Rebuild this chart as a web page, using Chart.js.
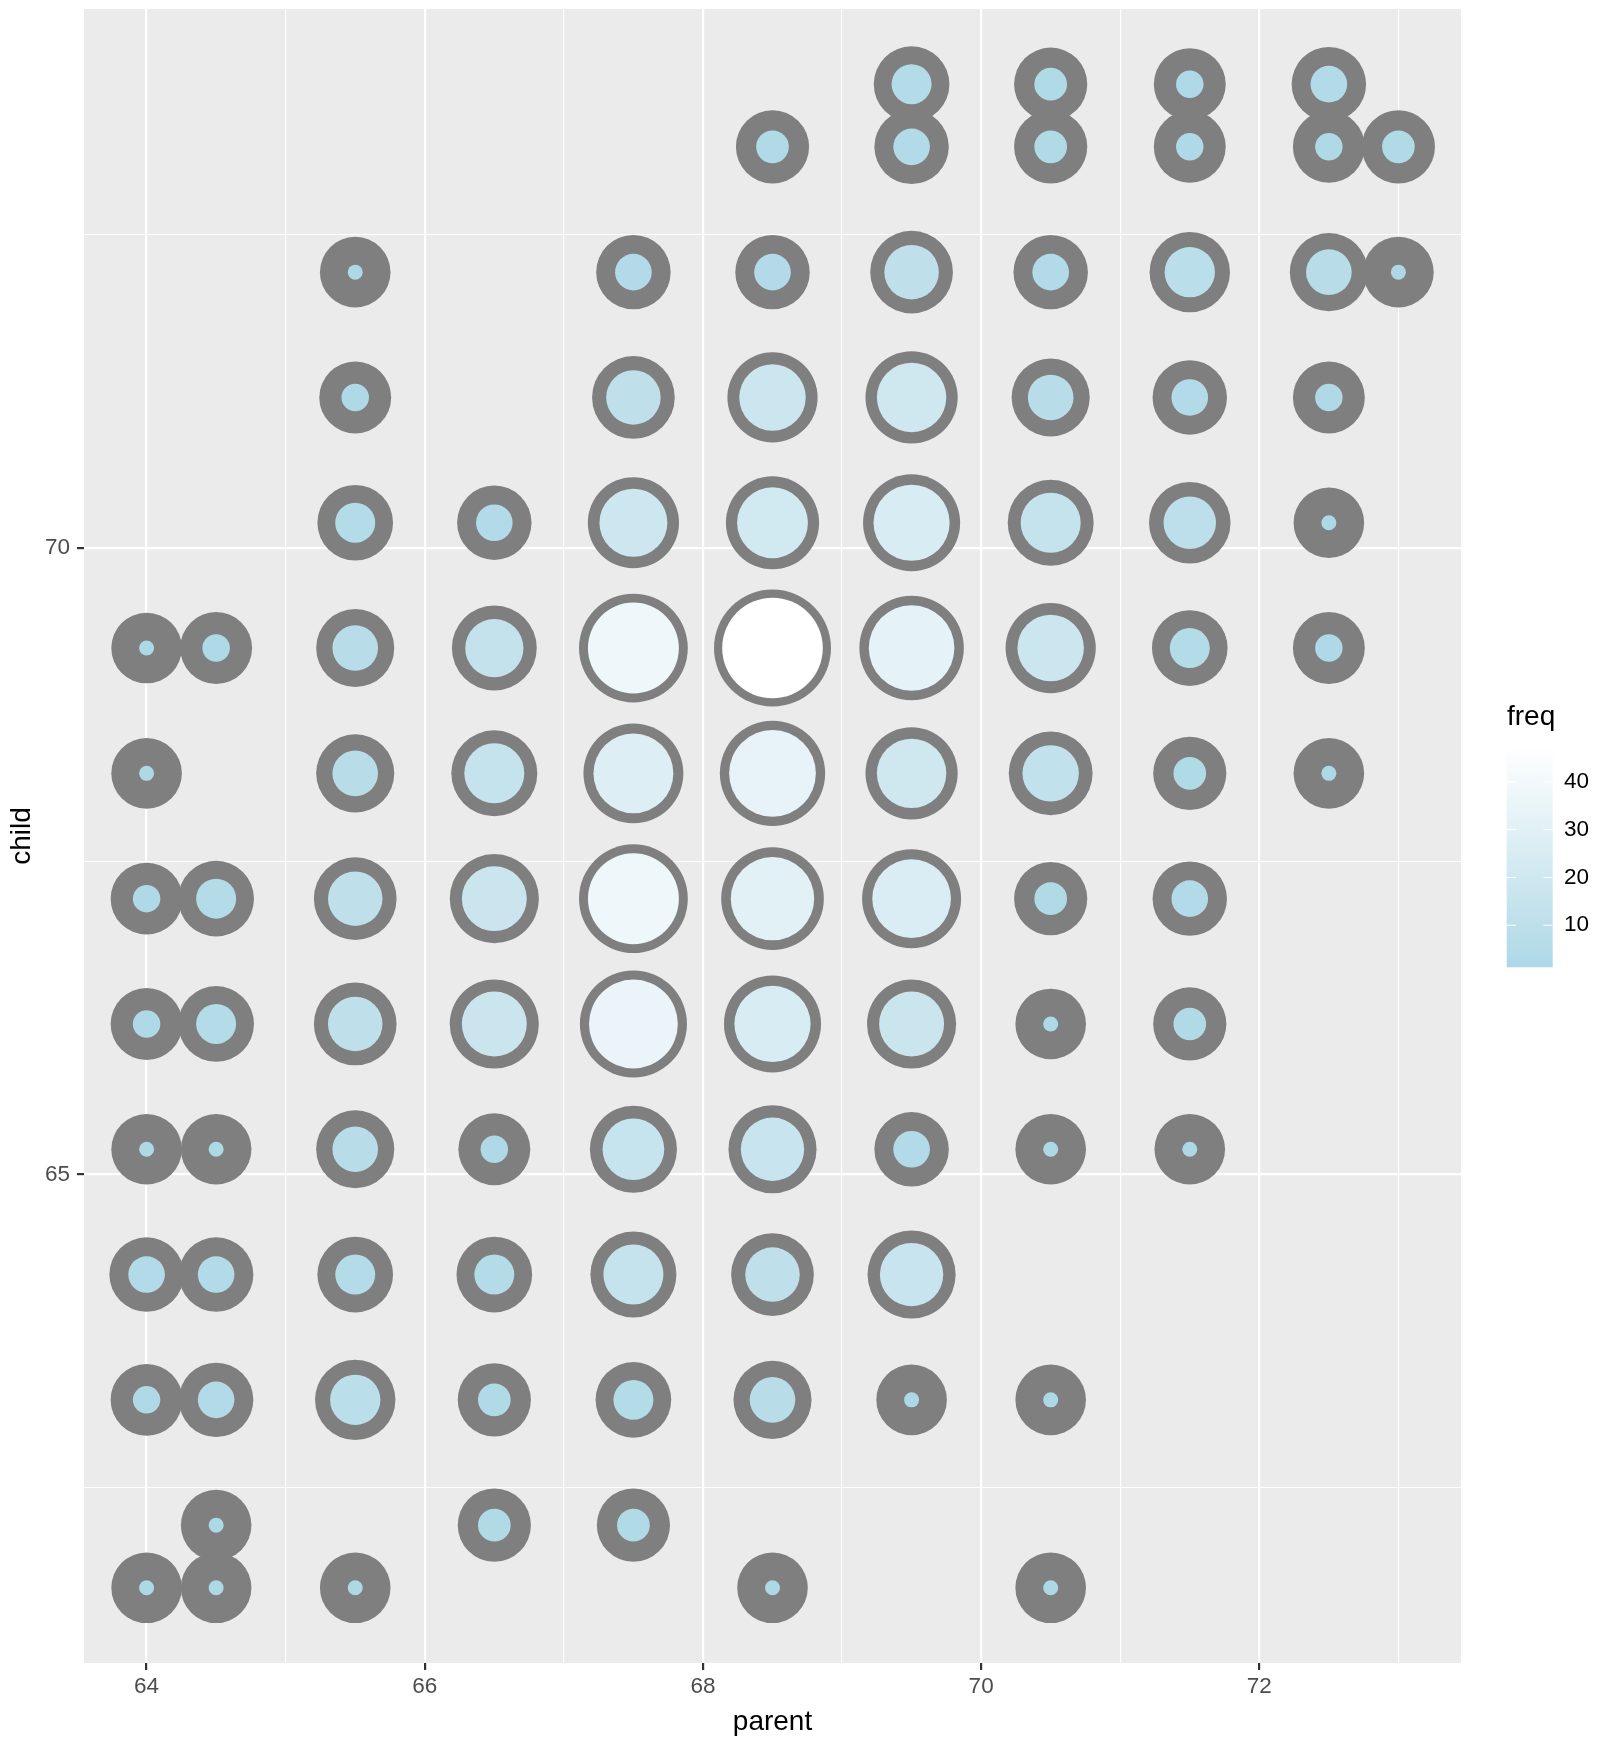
<!DOCTYPE html>
<html>
<head>
<meta charset="utf-8">
<script src="https://cdn.jsdelivr.net/npm/chart.js@4/dist/chart.umd.min.js"></script>
<style>
  html, body { margin: 0; padding: 0; background: #ffffff; }
  #wrap { position: relative; width: 1612px; height: 1746px; }
  canvas { display: block; }
</style>
</head>
<body>
<div id="wrap"><canvas id="c" width="1612" height="1746"></canvas></div>
<script>
// ---------------- DATA ----------------
const parentHeights = [64, 64.5, 65.5, 66.5, 67.5, 68.5, 69.5, 70.5, 71.5, 72.5, 73];
const childHeights  = [61.7, 62.2, 63.2, 64.2, 65.2, 66.2, 67.2, 68.2, 69.2, 70.2, 71.2, 72.2, 73.2, 73.7];
// frequency rows, one per child height, columns follow parentHeights
const freq617 = [1, 1, 1, 0, 0, 1, 0, 1, 0, 0, 0];
const freq622 = [0, 1, 0, 3, 3, 0, 0, 0, 0, 0, 0];
const freq632 = [2, 4, 9, 3, 5, 7, 1, 1, 0, 0, 0];
const freq642 = [4, 4, 5, 5, 14, 11, 16, 0, 0, 0, 0];
const freq652 = [1, 1, 7, 2, 15, 16, 4, 1, 1, 0, 0];
const freq662 = [2, 5, 11, 17, 36, 25, 17, 1, 3, 0, 0];
const freq672 = [2, 5, 11, 17, 38, 31, 27, 3, 4, 0, 0];
const freq682 = [1, 0, 7, 14, 28, 34, 20, 12, 3, 1, 0];
const freq692 = [1, 2, 7, 13, 38, 48, 33, 18, 5, 2, 0];
const freq702 = [0, 0, 5, 4, 19, 21, 25, 14, 10, 1, 0];
const freq712 = [0, 0, 2, 0, 11, 18, 20, 7, 4, 2, 0];
const freq722 = [0, 0, 1, 0, 4, 4, 11, 4, 9, 7, 1];
const freq732 = [0, 0, 0, 0, 0, 3, 4, 3, 2, 2, 3];
const freq737 = [0, 0, 0, 0, 0, 0, 5, 3, 2, 4, 0];
const freqRows = [freq617, freq622, freq632, freq642, freq652, freq662, freq672,
                  freq682, freq692, freq702, freq712, freq722, freq732, freq737];

const xMajorTicks = [64, 66, 68, 70, 72];
const xMinorTicks = [65, 67, 69, 71, 73];
const yMajorTicks = [65, 70];
const yMinorTicks = [62.5, 67.5, 72.5];
const legendTicks = [10, 20, 30, 40];
const xTitle = 'parent';
const yTitle = 'child';
const legendTitle = 'freq';

// ---------------- COLOUR (Lab interpolation lightblue -> white) ----------------
function toLin(c) { c /= 255; return c <= 0.04045 ? c / 12.92 : Math.pow((c + 0.055) / 1.055, 2.4); }
function fromLin(c) { const v = c <= 0.0031308 ? 12.92 * c : 1.055 * Math.pow(c, 1 / 2.4) - 0.055; return Math.round(Math.max(0, Math.min(1, v)) * 255); }
const Xn = 0.95047, Yn = 1.0, Zn = 1.08883;
function fLab(t) { return t > 0.008856 ? Math.cbrt(t) : 7.787 * t + 16 / 116; }
function fInv(t) { const t3 = t * t * t; return t3 > 0.008856 ? t3 : (t - 16 / 116) / 7.787; }
function rgbToLab(rgb) {
  const r = toLin(rgb[0]), g = toLin(rgb[1]), b = toLin(rgb[2]);
  const X = 0.4124564 * r + 0.3575761 * g + 0.1804375 * b;
  const Y = 0.2126729 * r + 0.7151522 * g + 0.0721750 * b;
  const Z = 0.0193339 * r + 0.1191920 * g + 0.9503041 * b;
  const fx = fLab(X / Xn), fy = fLab(Y / Yn), fz = fLab(Z / Zn);
  return [116 * fy - 16, 500 * (fx - fy), 200 * (fy - fz)];
}
function labToRgb(lab) {
  const fy = (lab[0] + 16) / 116, fx = fy + lab[1] / 500, fz = fy - lab[2] / 200;
  const X = fInv(fx) * Xn, Y = fInv(fy) * Yn, Z = fInv(fz) * Zn;
  const r = 3.2404542 * X - 1.5371385 * Y - 0.4985314 * Z;
  const g = -0.9692660 * X + 1.8760108 * Y + 0.0415560 * Z;
  const b = 0.0556434 * X - 0.2040259 * Y + 1.0572252 * Z;
  return 'rgb(' + fromLin(r) + ',' + fromLin(g) + ',' + fromLin(b) + ')';
}
const lowLab = rgbToLab([173, 216, 230]);   // lightblue
const highLab = rgbToLab([255, 255, 255]);  // white

// ---------------- BUILD POINTS ----------------
const points = [];
childHeights.forEach((c, i) => {
  parentHeights.forEach((p, j) => {
    const f = freqRows[i][j];
    if (f > 0) points.push({ x: p, y: c, f: f });
  });
});
const fMin = Math.min(...points.map(d => d.f));
const fMax = Math.max(...points.map(d => d.f));
function colourFor(f) {
  const t = (f - fMin) / (fMax - fMin);
  return labToRgb([0, 1, 2].map(k => lowLab[k] + (highLab[k] - lowLab[k]) * t));
}
function innerR(f) { return 7.5 + 42.8 * Math.sqrt((f - fMin) / (fMax - fMin)); }
function outerR(f) { return Math.sqrt(1246 + 2176 * (f - fMin) / (fMax - fMin)); }

const outerPts = points.map(d => ({ x: d.x, y: d.y, r: outerR(d.f), f: d.f }));
const innerPts = points.map(d => ({ x: d.x, y: d.y, r: innerR(d.f), f: d.f }));

// ---------------- PLUGINS ----------------
const FONT = '"Liberation Sans", Arial, Helvetica, sans-serif';
const panelBg = {
  id: 'panelBg',
  beforeDraw(chart) {
    const { ctx, chartArea: a } = chart;
    ctx.save();
    ctx.fillStyle = '#FFFFFF';
    ctx.fillRect(0, 0, chart.width, chart.height);
    ctx.fillStyle = '#EBEBEB';
    ctx.fillRect(a.left, a.top, a.right - a.left, a.bottom - a.top);
    ctx.restore();
  }
};
const colourBar = {
  id: 'colourBar',
  afterDraw(chart) {
    const ctx = chart.ctx;
    const x0 = 1506.7, x1 = 1552.7, yTop = 746.7, yBot = 967.3;
    const yOf = v => 925.2 - (v - 10) * 4.777;
    ctx.save();
    ctx.font = '28px ' + FONT;
    ctx.fillStyle = '#000000';
    ctx.textBaseline = 'alphabetic';
    ctx.textAlign = 'left';
    ctx.fillText(legendTitle, 1507, 725);
    const g = ctx.createLinearGradient(0, yBot, 0, yTop);
    const n = 30;
    for (let k = 0; k <= n; k++) {
      const f = fMin + (fMax - fMin) * k / n;
      g.addColorStop(k / n, colourFor(f));
    }
    ctx.fillStyle = g;
    ctx.fillRect(x0, yTop, x1 - x0, yBot - yTop);
    ctx.strokeStyle = '#FFFFFF';
    ctx.lineWidth = 1.1;
    ctx.font = '22.5px ' + FONT;
    ctx.fillStyle = '#000000';
    ctx.textBaseline = 'middle';
    legendTicks.forEach(v => {
      const y = yOf(v);
      ctx.beginPath();
      ctx.moveTo(x0, y); ctx.lineTo(x0 + 9.2, y);
      ctx.moveTo(x1 - 9.2, y); ctx.lineTo(x1, y);
      ctx.stroke();
      ctx.fillText(String(v), 1564, y);
    });
    ctx.restore();
  }
};

// ---------------- CHART ----------------
const xAll = xMajorTicks.concat(xMinorTicks).sort((a, b) => a - b);
const yAll = yMajorTicks.concat(yMinorTicks).sort((a, b) => a - b);
const isMajX = v => xMajorTicks.includes(v);
const isMajY = v => yMajorTicks.includes(v);

new Chart(document.getElementById('c'), {
  type: 'bubble',
  data: {
    datasets: [
      { label: 'ring', data: outerPts, backgroundColor: '#7F7F7F', borderWidth: 0, order: 2 },
      { label: 'freq', data: innerPts, backgroundColor: ctx => colourFor(ctx.raw ? ctx.raw.f : fMin), borderWidth: 0, order: 1 }
    ]
  },
  options: {
    responsive: false,
    devicePixelRatio: 1,
    animation: false,
    events: [],
    layout: { autoPadding: false, padding: { left: 0, top: 9, right: 151, bottom: 0 } },
    plugins: { legend: { display: false }, tooltip: { enabled: false } },
    elements: { point: { hoverRadius: 0, borderWidth: 0 } },
    scales: {
      x: {
        type: 'linear', position: 'bottom', min: 63.55, max: 73.45,
        afterBuildTicks: s => { s.ticks = xAll.map(v => ({ value: v })); },
        afterFit: s => { s.height = 83; s.paddingLeft = 0; s.paddingRight = 0; },
        border: { display: false },
        grid: {
          color: '#FFFFFF',
          lineWidth: c => (c.tick && isMajX(c.tick.value)) ? 2.2 : 1.1,
          drawTicks: true, tickLength: 7, tickWidth: 2.2,
          tickColor: c => (c.tick && isMajX(c.tick.value)) ? '#333333' : 'rgba(0,0,0,0)'
        },
        ticks: {
          autoSkip: false, maxRotation: 0, padding: 3,
          color: '#4D4D4D', font: { family: FONT, size: 22.5 },
          callback: v => isMajX(v) ? String(v) : ''
        },
        title: { display: true, text: xTitle, color: '#000000', font: { family: FONT, size: 28 }, padding: { top: 0, bottom: 7 } }
      },
      y: {
        type: 'linear', position: 'left', min: 61.1, max: 74.3,
        afterBuildTicks: s => { s.ticks = yAll.map(v => ({ value: v })); },
        afterFit: s => { s.width = 84; s.paddingTop = 0; s.paddingBottom = 0; },
        border: { display: false },
        grid: {
          color: '#FFFFFF',
          lineWidth: c => (c.tick && isMajY(c.tick.value)) ? 2.2 : 1.1,
          drawTicks: true, tickLength: 7, tickWidth: 2.2,
          tickColor: c => (c.tick && isMajY(c.tick.value)) ? '#333333' : 'rgba(0,0,0,0)'
        },
        ticks: {
          autoSkip: false, padding: 7,
          color: '#4D4D4D', font: { family: FONT, size: 22.5 },
          callback: v => isMajY(v) ? String(v) : ''
        },
        title: { display: true, text: yTitle, color: '#000000', font: { family: FONT, size: 28 }, padding: { top: 5, bottom: 0 } }
      }
    }
  },
  plugins: [panelBg, colourBar]
});
</script>
</body>
</html>
